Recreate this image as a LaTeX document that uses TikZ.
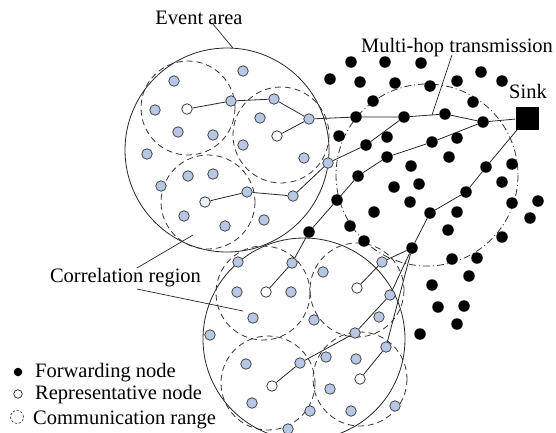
\documentclass[tikz,border=0pt]{standalone}
\usepackage{fontspec}
\setmainfont{Liberation Serif}
\usetikzlibrary{backgrounds}
\definecolor{sensorblue}{RGB}{184,200,228}
\definecolor{repfill}{RGB}{236,241,248}
\tikzset{
  fwd/.style={circle, fill=black, inner sep=0pt, minimum size=11.5pt},
  sensor/.style={circle, draw=black!80, fill=sensorblue, line width=0.7pt, inner sep=0pt, minimum size=10.5pt},
  rep/.style={circle, draw=black!85, fill=white, line width=0.7pt, inner sep=0pt, minimum size=10.5pt},
  sinkbox/.style={rectangle, fill=black, inner sep=0pt, minimum size=23pt},
  link/.style={line width=0.8pt, black!85},
  pointer/.style={line width=0.7pt, black!85},
  area/.style={line width=0.8pt, black!85},
  commrange/.style={line width=0.8pt, black!80, dash pattern=on 6pt off 4pt},
  hoprange/.style={line width=0.8pt, black!80, dash pattern=on 7pt off 3pt on 1pt off 3pt},
  lbl/.style={font=\fontsize{20.5pt}{24pt}\selectfont, inner sep=0pt}
}
\begin{document}
\begin{tikzpicture}[x=1pt, y=-1pt]
\useasboundingbox (0,0) rectangle (556,432);

% ---- forwarding nodes ----
\foreach \n/\p in {f1/{351,62}, f2/{385,62}, f3/{421,63}, f4/{330,79}, f5/{360,82},
  f6/{395,83}, f7/{430,86}, f8/{457,81}, f9/{481,72}, f10/{502,81}, f11/{373,101},
  f12/{473,102}, f13/{356,117}, f14/{404,117}, f15/{445,114}, f16/{483,122},
  f17/{339,136}, f18/{387,137}, f19/{366,145}, f20/{432,142}, f21/{457,138},
  f22/{387,157}, f23/{449,157}, f24/{411,166}, f25/{486,167}, f26/{512,164},
  f27/{358,176}, f28/{394,187}, f29/{419,184}, f30/{502,182}, f31/{466,192},
  f32/{337,200}, f33/{410,202}, f34/{512,203}, f35/{538,201}, f36/{374,212},
  f37/{430,213}, f38/{457,212}, f39/{530,218}, f40/{350,226}, f41/{309,232},
  f42/{448,230}, f43/{502,237}, f44/{364,241}, f45/{412,248}, f46/{452,259},
  f47/{477,258}, f48/{469,276}, f49/{432,285}, f50/{438,307}, f51/{464,306},
  f52/{457,324}, f53/{420,334}}
  \node[fwd] (\n) at (\p) {};

\node[sinkbox] (sink) at (527,118) {};

% ---- sensor nodes, upper event area ----
\foreach \n/\p in {b1/{174,81}, b2/{243,71}, b3/{155,110}, b4/{231,101}, b5/{274,99},
  b6/{309,119}, b7/{260,118}, b8/{178,132}, b9/{213,135}, b10/{243,145},
  b11/{147,154}, b12/{304,158}, b13/{328,163}, b14/{161,186}, b15/{188,176},
  b16/{213,174}, b17/{247,192}, b18/{293,196}, b19/{184,216}, b20/{225,226},
  b21/{264,220}}
  \node[sensor] (\n) at (\p) {};
\node[rep] (r1) at (187,109) {};
\node[rep] (r2) at (277,136) {};
\node[rep, fill=repfill] (r3) at (205,202) {};

% ---- sensor nodes, lower event area ----
\foreach \n/\p in {c1/{238,262}, c2/{292,263}, c3/{323,272}, c4/{382,262},
  c5/{237,292}, c6/{291,292}, c7/{390,295}, c8/{253,318}, c9/{314,320},
  c10/{379,317}, c11/{355,333}, c12/{210,335}, c13/{386,347}, c14/{246,364},
  c15/{300,363}, c16/{326,357}, c17/{356,359}, c18/{252,403}, c19/{310,411},
  c20/{330,389}, c21/{351,411}, c22/{395,406}, c23/{288,429}}
  \node[sensor] (\n) at (\p) {};
\node[rep] (r4) at (266,292) {};
\node[rep] (r5) at (357,288) {};
\node[rep] (r6) at (272,386) {};
\node[rep] (r7) at (360,379) {};

% ---- labels ----
\node[lbl, anchor=base] (eventlbl) at (199,24) {Event area};
\node[lbl, anchor=base] (hoplbl) at (457,52) {Multi-hop transmission};
\node[lbl, anchor=base] (sinklbl) at (528,98) {Sink};
\node[lbl, anchor=base] (corrlbl) at (125.5,282) {Correlation region};

% ---- legend ----
\node[circle, fill=black, inner sep=0pt, minimum size=8.5pt] (lgf) at (18,372) {};
\node[circle, draw=black!85, line width=0.7pt, inner sep=0pt, minimum size=8.5pt] (lgr) at (18,394) {};
\node[circle, draw=black!80, line width=0.6pt, dash pattern=on 2.5pt off 1.5pt, inner sep=0pt, minimum size=13pt] (lgc) at (17,417) {};
\node[lbl, anchor=base west] (lgft) at (35,377) {Forwarding node};
\node[lbl, anchor=base west] (lgrt) at (35,399) {Representative node};
\node[lbl, anchor=base west] (lgct) at (33,424) {Communication range};

% ---- pointer ends ----
\coordinate (evA) at (212,23);
\coordinate (evB) at (233,48);
\coordinate (hopA) at (452,55);
\coordinate (hopB) at (432,115);
\coordinate (crA) at (137,268);
\coordinate (crB) at (193,235);
\coordinate (crC) at (137,289);
\coordinate (crD) at (243,311);

\begin{scope}[on background layer]
  % event areas and ranges
  \draw[area] (227,150) circle[radius=102];
  \draw[area] (304,339) circle[radius=101];
  \draw[commrange] (188,108) circle[radius=47];
  \draw[commrange] (281,135) circle[radius=48];
  \draw[commrange] (208,202) circle[radius=47];
  \draw[commrange] (263,293) circle[radius=47];
  \draw[commrange] (357,290) circle[radius=47];
  \draw[commrange] (268,383) circle[radius=47];
  \draw[commrange] (360,379) circle[radius=47];
  \draw[hoprange] (427,175) circle[radius=91];

  % routing paths
  \draw[link] (r1) -- (b4) -- (b5) -- (b6) -- (f13) -- (f14) -- (f15) -- (f16) -- (sink);
  \draw[link] (r2) -- (b6);
  \draw[link] (r3) -- (b17) -- (b18) -- (b13) -- (f19) -- (f14);
  \draw[link] (r4) -- (c2) -- (f41) -- (f32) -- (f27) -- (f22) -- (f20) -- (f16);
  \draw[link] (sink) -- (f25) -- (f31) -- (f37) -- (f45);
  \draw[link] (f45) -- (c4) -- (r5);
  \draw[link] (f45) -- (c7) -- (c11) -- (c15) -- (r6);
  \draw[link] (f45) -- (c13) -- (r7);

  % label pointers
  \draw[pointer] (evA) -- (evB);
  \draw[pointer] (hopA) -- (hopB);
  \draw[pointer] (crA) -- (crB);
  \draw[pointer] (crC) -- (crD);
\end{scope}
\end{tikzpicture}
\end{document}
